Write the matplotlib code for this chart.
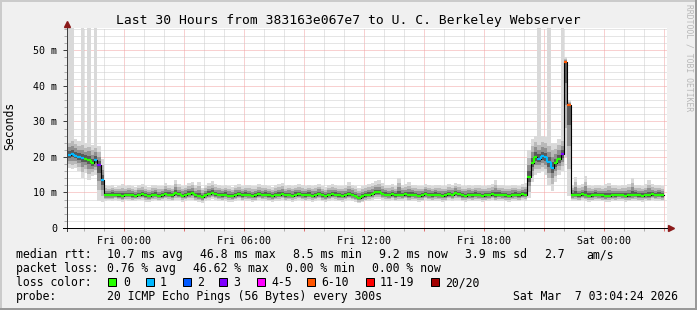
import numpy as np
import pandas as pd
import matplotlib
matplotlib.use("Agg")
import matplotlib.pyplot as plt
import matplotlib.dates as mdates
from matplotlib.patches import Rectangle
from matplotlib.collections import LineCollection
from matplotlib.ticker import MultipleLocator, FuncFormatter

W, H = 697, 310
MONO = "DejaVu Sans Mono"

# --- data: 10 minute steps starting Thu 21:10 ---
start = "2026-03-05 21:10"

median_ms = [
    20.5, 20.8, 20.4, 20.0, 19.8, 19.5, 19.2, 18.3, 19.1, 17.7,
    13.6, 9.3, 9.2, 9.4, 9.3, 9.2, 9.0, 9.3, 9.4, 9.2,
    9.1, 9.3, 9.5, 9.2, 9.0, 9.3, 9.4, 9.1, 9.2, 9.6,
    9.4, 9.2, 9.8, 9.5, 9.1, 9.3, 9.6, 9.8, 9.2, 9.0,
    8.7, 9.3, 9.6, 9.9, 9.5, 9.3, 9.2, 9.4, 9.1, 9.0,
    9.3, 9.5, 9.2, 9.4, 9.3, 9.1, 9.2, 9.5, 9.3, 9.4,
    9.2, 9.0, 9.3, 9.4, 9.6, 9.2, 9.3, 9.1, 9.4, 9.5,
    9.3, 9.2, 9.4, 9.1, 9.3, 9.6, 9.2, 9.0, 9.3, 9.5,
    9.4, 9.2, 9.1, 9.3, 9.5, 9.3, 9.0, 8.5, 8.9, 9.2,
    9.4, 9.6, 10.0, 10.1, 9.6, 9.4, 9.3, 9.5, 9.2, 9.4,
    9.3, 9.5, 9.2, 9.4, 9.3, 9.1, 9.2, 9.6, 9.3, 9.2,
    9.4, 9.3, 9.1, 9.2, 9.5, 9.3, 9.8, 9.5, 9.2, 9.1,
    9.3, 9.2, 9.4, 9.3, 9.1, 9.2, 9.3, 9.5, 9.2, 9.4,
    9.3, 9.2, 9.1, 9.3, 9.4, 9.2, 9.5, 9.4, 14.3, 18.3,
    20.0, 19.5, 20.2, 20.0, 18.5, 16.9, 18.3, 19.3, 20.9, 46.8,
    34.5, 9.3, 9.4, 9.2, 9.5, 9.3, 9.1, 9.2, 9.4, 9.3,
    9.2, 9.0, 9.1, 9.3, 9.2, 9.4, 9.3, 9.1, 9.2, 9.3,
    9.4, 9.2, 9.1, 9.3, 9.2, 9.5, 9.3, 9.4, 9.2,
]

# lost pings out of 20 per step
loss = [1, 1, 1, 1, 1, 0, 0, 0, 1, 3, 1] + [0] * 130 + \
       [1, 1, 1, 1, 1, 0, 0, 3, 8, 8] + [0] * 28

smoke_lo = [
    17.0, 16.5, 16.8, 16.0, 14.0, 15.5, 13.5, 14.5, 15.0, 7.5,
    7.2, 7.6, 7.8, 7.5, 7.9, 7.6, 7.4, 7.8, 7.7, 7.5,
    7.6, 7.8, 7.9, 7.4, 7.3, 7.7, 7.8, 7.5, 7.6, 7.9,
    7.7, 7.5, 8.0, 7.8, 7.4, 7.6, 7.9, 8.0, 7.5, 7.3,
    7.1, 7.6, 7.9, 8.1, 7.8, 7.6, 7.5, 7.7, 7.4, 7.3,
    7.6, 7.8, 7.5, 7.7, 7.6, 7.4, 7.5, 7.8, 7.6, 7.7,
    7.5, 7.3, 7.6, 7.7, 7.9, 7.5, 7.6, 7.4, 7.7, 7.8,
    7.6, 7.5, 7.7, 7.4, 7.6, 7.9, 7.5, 7.3, 7.6, 7.8,
    7.7, 7.5, 7.4, 7.6, 7.8, 7.6, 7.3, 6.9, 7.2, 7.5,
    7.7, 7.9, 8.2, 8.3, 7.9, 7.7, 7.6, 7.8, 7.5, 7.7,
    7.6, 7.8, 7.5, 7.7, 7.6, 7.4, 7.5, 7.9, 7.6, 7.5,
    7.7, 7.6, 7.4, 7.5, 7.8, 7.6, 8.0, 7.8, 7.5, 7.4,
    7.6, 7.5, 7.7, 7.6, 7.4, 7.5, 7.6, 7.8, 7.5, 7.7,
    7.6, 7.5, 7.4, 7.6, 7.7, 7.5, 7.8, 7.6, 8.5, 13.0,
    15.0, 15.5, 16.0, 15.0, 12.0, 10.5, 13.0, 15.0, 16.0, 20.0,
    9.0, 7.6, 7.7, 7.5, 7.8, 7.6, 7.4, 7.5, 7.7, 7.6,
    7.5, 7.3, 7.4, 7.6, 7.5, 7.7, 7.6, 7.4, 7.5, 7.6,
    7.7, 7.5, 7.4, 7.6, 7.5, 7.8, 7.6, 7.7, 7.5,
]

smoke_hi = [
    25.5, 26.0, 25.0, 24.5, 24.8, 24.0, 24.5, 23.5, 24.0, 23.0,
    19.5, 12.0, 11.8, 12.2, 11.6, 11.9, 12.3, 11.7, 12.0, 11.8,
    11.5, 12.1, 12.4, 11.9, 11.6, 12.0, 12.2, 11.7, 11.9, 12.6,
    12.2, 11.9, 13.5, 12.4, 11.8, 12.1, 12.7, 13.0, 12.0, 13.0,
    11.4, 12.0, 12.8, 13.2, 12.4, 12.1, 11.9, 12.2, 11.8, 11.6,
    12.1, 12.4, 11.9, 12.2, 12.0, 11.7, 11.9, 12.3, 12.0, 12.2,
    11.9, 11.6, 12.0, 12.3, 12.6, 11.9, 12.1, 11.8, 12.2, 12.4,
    12.0, 11.9, 12.2, 11.8, 12.0, 12.5, 11.9, 11.6, 12.1, 12.3,
    12.2, 11.9, 11.8, 12.0, 13.0, 12.1, 11.8, 11.3, 11.7, 12.0,
    12.3, 12.6, 13.2, 13.4, 12.6, 12.2, 12.0, 12.4, 11.9, 14.1,
    12.1, 12.4, 13.0, 12.2, 12.0, 11.8, 11.9, 12.5, 12.1, 11.9,
    12.2, 12.0, 11.8, 11.9, 12.3, 12.1, 12.8, 12.4, 11.9, 11.8,
    12.1, 11.9, 12.2, 12.0, 11.8, 11.9, 12.0, 12.3, 13.5, 12.2,
    12.0, 11.9, 11.8, 12.1, 12.2, 11.9, 12.4, 12.6, 22.0, 25.0,
    26.0, 25.0, 26.0, 25.5, 25.0, 24.0, 24.0, 25.0, 26.0, 48.0,
    36.0, 12.2, 14.4, 12.0, 12.4, 14.6, 12.1, 11.9, 12.2, 12.0,
    11.9, 12.3, 12.8, 12.0, 12.2, 11.8, 12.0, 12.1, 12.5, 14.0,
    12.2, 12.0, 11.9, 12.3, 13.5, 12.4, 12.0, 12.2, 11.9,
]

# steps whose slowest pings run off the top of the chart
peak_idx = [0, 1, 4, 6, 8, 141, 144, 148]
peak_ms = [60, 60, 60, 60, 60, 60, 60, 60]

loss_classes = ["0", "1", "2", "3", "4-5", "6-10", "11-19", "20/20"]
loss_colors = ["#26ff00", "#00b8ff", "#0059ff", "#7e00ff",
               "#ff00ff", "#ff5500", "#ff0000", "#a10000"]

title = "Last 30 Hours from 383163e067e7 to U. C. Berkeley Webserver"
legend_rows = [
    [(16, "median rtt:"), (107, "10.7 ms avg"), (200, "46.8 ms max"),
     (293, "8.5 ms min"), (379, "9.2 ms now"), (465, "3.9 ms sd"),
     (544, "2.7"), (586, "am/s")],
    [(16, "packet loss:"), (107, "0.76 % avg"), (193, "46.62 % max"),
     (286, "0.00 % min"), (372, "0.00 % now")],
    [(16, "loss color:")],
    [(16, "probe:"), (107, "20 ICMP Echo Pings (56 Bytes) every 300s"),
     (513, "Sat Mar  7 03:04:24 2026")],
]


def loss_class(n):
    if n <= 3:
        return n
    if n <= 5:
        return 4
    if n <= 10:
        return 5
    if n < 20:
        return 6
    return 7


times = pd.date_range(start, periods=len(median_ms), freq="10min")
edges = times.append(pd.DatetimeIndex([times[-1] + pd.Timedelta("10min")]))
tx = mdates.date2num(edges)

med = np.array(median_ms)
lo = np.array(smoke_lo)
hi = np.array(smoke_hi)
med_e = np.append(med, med[-1])
lo_e = np.append(lo, lo[-1])
hi_e = np.append(hi, hi[-1])

fig = plt.figure(figsize=(W / 100, H / 100), dpi=100)
fig.patch.set_facecolor("#f0f0f0")
ax = fig.add_axes([67 / W, (H - 228) / H, 600 / W, 200 / H])
ax.set_facecolor("white")

# smoke
for i, p in zip(peak_idx, peak_ms):
    ax.fill_between(tx[i:i + 2], [hi[i]] * 2, [p] * 2, color="#d9d9d9", lw=0)
for frac, col in [(1.0, "#dadada"), (0.7, "#b9b9b9"), (0.45, "#8f8f8f"), (0.22, "#5a5a5a")]:
    ax.fill_between(tx, med_e - frac * (med_e - lo_e), med_e + frac * (hi_e - med_e),
                    step="post", color=col, lw=0)

# median line
ax.plot(tx, med_e, drawstyle="steps-post", color="black", lw=0.8)
cls = [loss_class(n) for n in loss]
for c in range(8):
    segs = []
    for i in range(len(med)):
        if cls[i] != c:
            continue
        segs.append([(tx[i], med[i]), (tx[i + 1], med[i])])
        if i + 1 < len(med) and cls[i + 1] == c and abs(med[i + 1] - med[i]) < 2:
            segs.append([(tx[i + 1], med[i]), (tx[i + 1], med[i + 1])])
    if segs:
        ax.add_collection(LineCollection(segs, colors=loss_colors[c], linewidths=1.6,
                                         capstyle="butt"))

ax.set_xlim(mdates.date2num(pd.Timestamp("2026-03-05 21:09")),
            mdates.date2num(pd.Timestamp("2026-03-07 03:09")))
ax.set_ylim(0, 56.3)

# grid and ticks
ax.xaxis.set_major_locator(mdates.HourLocator(byhour=range(0, 24, 3)))
ax.xaxis.set_minor_locator(mdates.HourLocator())
ax.xaxis.set_major_formatter(FuncFormatter(
    lambda v, p: mdates.num2date(v).strftime("%a %H:%M")
    if mdates.num2date(v).hour % 6 == 0 else ""))
ax.yaxis.set_major_locator(MultipleLocator(10))
ax.yaxis.set_minor_locator(MultipleLocator(2))
ax.yaxis.set_major_formatter(FuncFormatter(lambda v, p: "0" if v == 0 else "%d m" % v))
ax.set_axisbelow(True)
ax.grid(which="minor", color="#cccccc", ls=(0, (1, 1)), lw=0.72)
ax.grid(which="major", color="#f2a2a2", ls=(0, (1, 1)), lw=0.72)
ax.tick_params(which="both", direction="out", labelsize=7.2, width=0.72)
ax.tick_params(axis="x", which="major", length=2, color="#e07070", pad=4)
ax.tick_params(axis="x", which="minor", length=2, color="#b0b0b0")
ax.tick_params(axis="y", which="major", length=3, color="#404040", pad=4)
ax.tick_params(axis="y", which="minor", length=2, color="#b0b0b0")
for lab in ax.get_xticklabels() + ax.get_yticklabels():
    lab.set_family(MONO)

for s in ["top", "right"]:
    ax.spines[s].set_visible(False)
ax.spines["left"].set_color("#404040")
ax.spines["bottom"].set_color("black")
ax.spines["left"].set_linewidth(0.72)
ax.spines["bottom"].set_linewidth(0.72)
ax.plot([-4 / 600, 1.0], [0, 0], transform=ax.transAxes, color="black", lw=0.72, clip_on=False)
ax.plot([0, 0], [-3 / 200, 0], transform=ax.transAxes, color="#404040", lw=0.72, clip_on=False)
ax.plot([1.0 + 4 / 600], [0], transform=ax.transAxes, marker=">", ms=4, color="#8b1a1a",
        mec="#8b1a1a", clip_on=False)
ax.plot([0], [1.0 + 4 / 200], transform=ax.transAxes, marker="^", ms=4, color="#8b1a1a",
        mec="#8b1a1a", clip_on=False)


def fx(x):
    return x / W


def fy(y):
    return 1 - y / H


fig.text(fx(348), fy(24), title, ha="center", va="baseline", family=MONO, fontsize=9.4)
fig.text(fx(10), fy(126), "Seconds", rotation=90, ha="center", va="center",
         family=MONO, fontsize=8.3)
fig.text(fx(689), fy(4), "RRDTOOL / TOBI OETIKER", rotation=270, ha="center", va="top",
         family=MONO, fontsize=5.8, color="#b8b8b8")

for r, row in enumerate(legend_rows):
    base = 258 + 14 * r
    for x, txt in row:
        fig.text(fx(x), fy(base), txt, ha="left", va="baseline", family=MONO, fontsize=8.3)

sw_x = [108, 146, 183, 219, 257, 307, 366, 431]
lab_x = [123, 160, 197, 233, 271, 321, 380, 445]
for sx, lx, name, col in zip(sw_x, lab_x, loss_classes, loss_colors):
    fig.add_artist(Rectangle((fx(sx), fy(286)), 8 / W, 8 / H, transform=fig.transFigure,
                             facecolor=col, edgecolor="black", lw=0.72))
    fig.text(fx(lx), fy(286), name, ha="left", va="baseline", family=MONO, fontsize=8.3)

# 3d border
fig.add_artist(Rectangle((0, 1 - 2 / H), 1, 2 / H, transform=fig.transFigure,
                         facecolor="#cbcbcb", lw=0))
fig.add_artist(Rectangle((0, 0), 2 / W, 1, transform=fig.transFigure,
                         facecolor="#cbcbcb", lw=0))
fig.add_artist(Rectangle((0, 0), 1, 2 / H, transform=fig.transFigure,
                         facecolor="#999999", lw=0))
fig.add_artist(Rectangle((1 - 2 / W, 0), 2 / W, 1, transform=fig.transFigure,
                         facecolor="#999999", lw=0))

fig.savefig("out.png", dpi=100, facecolor=fig.get_facecolor())
